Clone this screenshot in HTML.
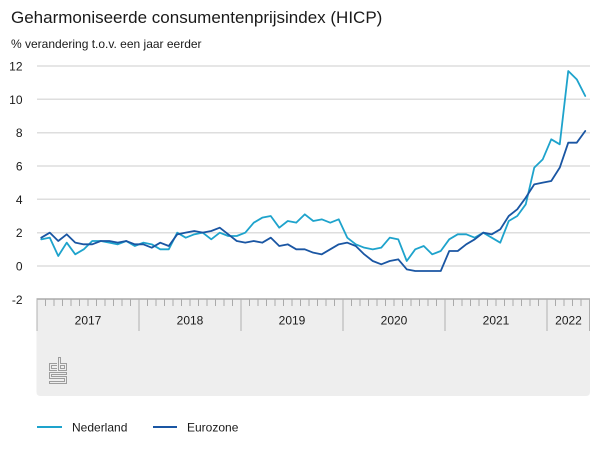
<!DOCTYPE html>
<html>
<head>
<meta charset="utf-8">
<style>
  html, body { margin: 0; padding: 0; background: #ffffff; }
  body { width: 600px; height: 450px; overflow: hidden; }
  svg { display: block; font-family: "Liberation Sans", Arial, sans-serif; }
</style>
</head>
<body>
<svg width="600" height="450" viewBox="0 0 600 450" xmlns="http://www.w3.org/2000/svg">
  <rect x="0" y="0" width="600" height="450" fill="#ffffff"/>

  <!-- Title -->
  <text x="11" y="23" font-size="17" fill="#1a1a1a">Geharmoniseerde consumentenprijsindex (HICP)</text>
  <text x="11" y="48" font-size="12" fill="#1a1a1a">% verandering t.o.v. een jaar eerder</text>

  <!-- Gridlines -->
  <g stroke="#dedede" stroke-width="1.5">
    <line x1="37" y1="66" x2="590" y2="66"/>
    <line x1="37" y1="99.3" x2="590" y2="99.3"/>
    <line x1="37" y1="132.7" x2="590" y2="132.7"/>
    <line x1="37" y1="166" x2="590" y2="166"/>
    <line x1="37" y1="199.3" x2="590" y2="199.3"/>
    <line x1="37" y1="232.7" x2="590" y2="232.7"/>
    <line x1="37" y1="266" x2="590" y2="266"/>
  </g>

  <!-- Y labels -->
  <g font-size="12" fill="#1a1a1a" text-anchor="end">
    <text x="22.5" y="70.5">12</text>
    <text x="22.5" y="103.8">10</text>
    <text x="22.5" y="137.2">8</text>
    <text x="22.5" y="170.5">6</text>
    <text x="22.5" y="203.8">4</text>
    <text x="22.5" y="237.2">2</text>
    <text x="22.5" y="270.5">0</text>
    <text x="22.5" y="303.8">-2</text>
  </g>

  <!-- Axis box -->
  <path d="M36.5,299 L590,299 L590,392 Q590,396 586,396 L40.5,396 Q36.5,396 36.5,392 Z" fill="#eeeeee"/>
  <line x1="36.5" y1="299" x2="590" y2="299" stroke="#9a9a9a" stroke-width="1.2"/>

  <!-- Month ticks -->
  <g stroke="#aaaaaa" stroke-width="1">
    <line x1="45.5" y1="299" x2="45.5" y2="306"/><line x1="54" y1="299" x2="54" y2="306"/><line x1="62.5" y1="299" x2="62.5" y2="306"/><line x1="71" y1="299" x2="71" y2="306"/><line x1="79.5" y1="299" x2="79.5" y2="306"/><line x1="88" y1="299" x2="88" y2="306"/><line x1="96.5" y1="299" x2="96.5" y2="306"/><line x1="105" y1="299" x2="105" y2="306"/><line x1="113.5" y1="299" x2="113.5" y2="306"/><line x1="122" y1="299" x2="122" y2="306"/><line x1="130.5" y1="299" x2="130.5" y2="306"/>
    <line x1="147.5" y1="299" x2="147.5" y2="306"/><line x1="156" y1="299" x2="156" y2="306"/><line x1="164.5" y1="299" x2="164.5" y2="306"/><line x1="173" y1="299" x2="173" y2="306"/><line x1="181.5" y1="299" x2="181.5" y2="306"/><line x1="190" y1="299" x2="190" y2="306"/><line x1="198.5" y1="299" x2="198.5" y2="306"/><line x1="207" y1="299" x2="207" y2="306"/><line x1="215.5" y1="299" x2="215.5" y2="306"/><line x1="224" y1="299" x2="224" y2="306"/><line x1="232.5" y1="299" x2="232.5" y2="306"/>
    <line x1="249.5" y1="299" x2="249.5" y2="306"/><line x1="258" y1="299" x2="258" y2="306"/><line x1="266.5" y1="299" x2="266.5" y2="306"/><line x1="275" y1="299" x2="275" y2="306"/><line x1="283.5" y1="299" x2="283.5" y2="306"/><line x1="292" y1="299" x2="292" y2="306"/><line x1="300.5" y1="299" x2="300.5" y2="306"/><line x1="309" y1="299" x2="309" y2="306"/><line x1="317.5" y1="299" x2="317.5" y2="306"/><line x1="326" y1="299" x2="326" y2="306"/><line x1="334.5" y1="299" x2="334.5" y2="306"/>
    <line x1="351.5" y1="299" x2="351.5" y2="306"/><line x1="360" y1="299" x2="360" y2="306"/><line x1="368.5" y1="299" x2="368.5" y2="306"/><line x1="377" y1="299" x2="377" y2="306"/><line x1="385.5" y1="299" x2="385.5" y2="306"/><line x1="394" y1="299" x2="394" y2="306"/><line x1="402.5" y1="299" x2="402.5" y2="306"/><line x1="411" y1="299" x2="411" y2="306"/><line x1="419.5" y1="299" x2="419.5" y2="306"/><line x1="428" y1="299" x2="428" y2="306"/><line x1="436.5" y1="299" x2="436.5" y2="306"/>
    <line x1="453.5" y1="299" x2="453.5" y2="306"/><line x1="462" y1="299" x2="462" y2="306"/><line x1="470.5" y1="299" x2="470.5" y2="306"/><line x1="479" y1="299" x2="479" y2="306"/><line x1="487.5" y1="299" x2="487.5" y2="306"/><line x1="496" y1="299" x2="496" y2="306"/><line x1="504.5" y1="299" x2="504.5" y2="306"/><line x1="513" y1="299" x2="513" y2="306"/><line x1="521.5" y1="299" x2="521.5" y2="306"/><line x1="530" y1="299" x2="530" y2="306"/><line x1="538.5" y1="299" x2="538.5" y2="306"/>
    <line x1="555.5" y1="299" x2="555.5" y2="306"/><line x1="564" y1="299" x2="564" y2="306"/><line x1="572.5" y1="299" x2="572.5" y2="306"/><line x1="581" y1="299" x2="581" y2="306"/>
  </g>
  <!-- Year separators -->
  <g stroke="#b0b0b0" stroke-width="1">
    <line x1="37" y1="299" x2="37" y2="331"/>
    <line x1="139" y1="299" x2="139" y2="331"/>
    <line x1="241" y1="299" x2="241" y2="331"/>
    <line x1="343" y1="299" x2="343" y2="331"/>
    <line x1="445" y1="299" x2="445" y2="331"/>
    <line x1="547" y1="299" x2="547" y2="331"/>
    <line x1="589.5" y1="299" x2="589.5" y2="331"/>
  </g>
  <g font-size="12" fill="#1a1a1a" text-anchor="middle">
    <text x="88" y="324.5">2017</text>
    <text x="190" y="324.5">2018</text>
    <text x="292" y="324.5">2019</text>
    <text x="394" y="324.5">2020</text>
    <text x="496" y="324.5">2021</text>
    <text x="568.5" y="324.5">2022</text>
  </g>

  <!-- CBS logo -->
  <g fill="none" stroke="#9d9d9d" stroke-width="1">
    <!-- c -->
    <path d="M57,363.5 L49.5,363.5 L49.5,370.5 L57,370.5"/>
    <path d="M57,365.5 L51.5,365.5 L51.5,368.5 L57,368.5"/>
    <!-- b -->
    <path d="M58.5,357.5 L58.5,370.5 L66.5,370.5 L66.5,363.5 L60.5,363.5 L60.5,357.5 Z"/>
    <rect x="60.5" y="365.5" width="4" height="3"/>
    <!-- S -->
    <path d="M66.5,372.5 L49.5,372.5 L49.5,378.5 L64.5,378.5 L64.5,381.5 L49.5,381.5 L49.5,383.5 L66.5,383.5 L66.5,376.5 L51.5,376.5 L51.5,374.5 L66.5,374.5 Z"/>
  </g>

  <!-- Series -->
  <g transform="translate(41.25,266) scale(8.5,-16.6667)" fill="none" stroke-linejoin="round" stroke-linecap="round">
    <polyline vector-effect="non-scaling-stroke" stroke="#1ea3cc" stroke-width="1.8"
      points="0,1.6 1,1.7 2,0.6 3,1.4 4,0.7 5,1.0 6,1.5 7,1.5 8,1.4 9,1.3 10,1.5 11,1.2 12,1.4 13,1.3 14,1.0 15,1.0 16,2.0 17,1.7 18,1.9 19,2.0 20,1.6 21,2.0 22,1.8 23,1.8 24,2.0 25,2.6 26,2.9 27,3.0 28,2.3 29,2.7 30,2.6 31,3.1 32,2.7 33,2.8 34,2.6 35,2.8 36,1.7 37,1.3 38,1.1 39,1.0 40,1.1 41,1.7 42,1.6 43,0.3 44,1.0 45,1.2 46,0.7 47,0.9 48,1.6 49,1.9 50,1.9 51,1.7 52,2.0 53,1.7 54,1.4 55,2.7 56,3.0 57,3.7 58,5.9 59,6.4 60,7.6 61,7.3 62,11.7 63,11.2 64,10.2"/>
    <polyline vector-effect="non-scaling-stroke" stroke="#1a56a3" stroke-width="1.8"
      points="0,1.7 1,2.0 2,1.5 3,1.9 4,1.4 5,1.3 6,1.3 7,1.5 8,1.5 9,1.4 10,1.5 11,1.3 12,1.3 13,1.1 14,1.4 15,1.2 16,1.9 17,2.0 18,2.1 19,2.0 20,2.1 21,2.3 22,1.9 23,1.5 24,1.4 25,1.5 26,1.4 27,1.7 28,1.2 29,1.3 30,1.0 31,1.0 32,0.8 33,0.7 34,1.0 35,1.3 36,1.4 37,1.2 38,0.7 39,0.3 40,0.1 41,0.3 42,0.4 43,-0.2 44,-0.3 45,-0.3 46,-0.3 47,-0.3 48,0.9 49,0.9 50,1.3 51,1.6 52,2.0 53,1.9 54,2.2 55,3.0 56,3.4 57,4.1 58,4.9 59,5.0 60,5.1 61,5.9 62,7.4 63,7.4 64,8.1"/>
  </g>

  <!-- Legend -->
  <line x1="37" y1="427" x2="62" y2="427" stroke="#1ea3cc" stroke-width="2"/>
  <text x="72" y="431.5" font-size="12" fill="#1a1a1a">Nederland</text>
  <line x1="153" y1="427" x2="177" y2="427" stroke="#1a56a3" stroke-width="2"/>
  <text x="187" y="431.5" font-size="12" fill="#1a1a1a">Eurozone</text>
</svg>
</body>
</html>
